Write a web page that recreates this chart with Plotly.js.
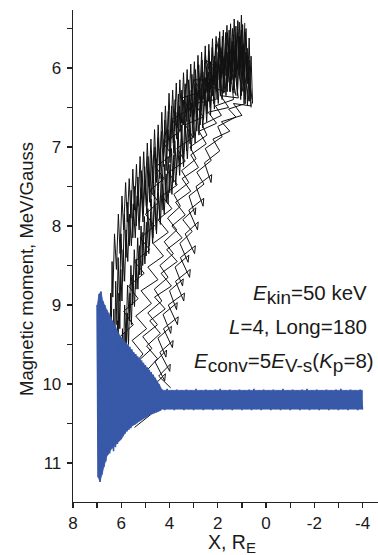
<!DOCTYPE html>
<html>
<head>
<meta charset="utf-8">
<script src="https://cdn.plot.ly/plotly-3.0.1.min.js"></script>
<style>html,body{margin:0;padding:0;background:#fff;}#chart{width:378px;height:555px;}</style>
</head>
<body>
<div id="chart"></div>
<script>
// ---- Data ----
// Black trajectories: spiky ones along the upper-left side
const s1X = [6.55,6.50,6.47,6.44,6.41,6.38,6.35,6.28,6.20,6.12,6.05,5.97,5.90,5.82,5.75,5.67,5.60,5.52,5.45,5.37,5.30,5.22,5.15,5.07,5.00,4.92,4.85,4.77,4.70,4.62,4.55,4.47,4.40,4.32,4.25,4.17,4.10,4.02,3.95,3.87,3.80,3.72,3.65,3.57,3.50,3.42,3.35,3.27,3.20,3.12,3.05,2.97,2.90,2.82,2.75,2.67,2.60,2.52,2.45,2.37,2.30,2.22,2.15,2.07,2.00,1.92,1.85,1.77,1.70,1.62,1.55,1.47,1.40,1.32,1.25,1.17,1.10,1.02,0.95,0.88];
const s1Y = [9.95,9.30,9.75,8.85,9.30,8.45,8.90,8.10,8.55,7.85,8.35,7.62,8.05,7.45,7.95,7.40,7.90,7.28,7.80,7.22,7.75,7.12,7.65,7.06,7.60,6.95,7.50,6.90,7.45,6.78,7.35,6.72,7.25,6.56,7.10,6.48,7.00,6.32,6.90,6.28,6.80,6.19,6.75,6.15,6.70,6.06,6.62,6.02,6.55,5.95,6.50,5.92,6.45,5.84,6.40,5.80,6.35,5.72,6.30,5.70,6.25,5.63,6.20,5.60,6.15,5.54,6.12,5.52,6.10,5.46,6.08,5.44,6.05,5.38,6.05,5.40,6.02,5.33,6.10,5.43];
const s2X = [6.25,6.22,6.19,6.16,6.13,6.10,6.06,6.02,5.97,5.92,5.86,5.80,5.73,5.66,5.58,5.50,5.42,5.34,5.26,5.18,5.10,5.02,4.94,4.86,4.78,4.70,4.62,4.54,4.46,4.38,4.30,4.22,4.14,4.06,3.98,3.90,3.82,3.74,3.66,3.58,3.50,3.42,3.34,3.26,3.18,3.10,3.02,2.94,2.86,2.78,2.70,2.62,2.54,2.46,2.38,2.30,2.22,2.14,2.06,1.98,1.90,1.82,1.74,1.66,1.58,1.50,1.42,1.34,1.26,1.18,1.10,1.02,0.94,0.86,0.78];
const s2Y = [10.02,9.45,9.90,9.20,9.60,8.85,9.30,8.55,8.95,8.30,8.70,8.05,8.45,7.85,8.25,7.72,8.15,7.62,8.05,7.52,7.95,7.42,7.85,7.33,7.75,7.25,7.65,7.15,7.55,7.02,7.45,6.90,7.30,6.78,7.20,6.66,7.08,6.56,6.98,6.48,6.90,6.42,6.82,6.35,6.75,6.28,6.70,6.20,6.62,6.12,6.55,6.05,6.48,5.98,6.42,5.92,6.35,5.85,6.30,5.80,6.25,5.74,6.22,5.68,6.18,5.62,6.15,5.58,6.12,5.55,6.10,5.52,6.10,5.55,6.15];
const s3X = [5.95,5.92,5.88,5.84,5.80,5.75,5.70,5.64,5.58,5.52,5.45,5.38,5.31,5.24,5.17,5.10,5.02,4.94,4.86,4.78,4.70,4.62,4.54,4.46,4.38,4.30,4.22,4.14,4.06,3.98,3.90,3.82,3.74,3.66,3.58,3.50,3.42,3.34,3.26,3.18,3.10,3.02,2.94,2.86,2.78,2.70,2.62,2.54,2.46,2.38,2.30,2.22,2.14,2.06,1.98,1.90,1.82,1.74,1.66,1.58,1.50,1.42,1.34,1.26,1.18,1.10,1.02,0.94,0.86,0.78,0.70,0.62,0.56];
const s3Y = [10.05,9.55,9.95,9.35,9.75,9.10,9.50,8.85,9.25,8.62,9.02,8.42,8.80,8.25,8.62,8.08,8.48,7.95,8.35,7.82,8.22,7.70,8.10,7.58,7.98,7.46,7.85,7.34,7.72,7.22,7.60,7.10,7.48,6.98,7.36,6.86,7.25,6.76,7.15,6.66,7.05,6.56,6.95,6.46,6.85,6.36,6.76,6.27,6.68,6.18,6.60,6.10,6.52,6.02,6.45,5.95,6.40,5.88,6.35,5.80,6.30,5.72,6.28,5.65,6.30,5.60,6.35,5.70,6.40,5.75,6.42,5.85,6.45];
const s4X = [6.40,6.37,6.34,6.31,6.27,6.23,6.18,6.13,6.07,6.01,5.94,5.87,5.80,5.73,5.66,5.59,5.52,5.45,5.38,5.31,5.24,5.17,5.10,5.03,4.96,4.89,4.82,4.75,4.68,4.61,4.54,4.47,4.40,4.33,4.26,4.19,4.12,4.05,3.98,3.91,3.84,3.77,3.70,3.63,3.56,3.49,3.42,3.35,3.28,3.21,3.14,3.07,3.00,2.93,2.86,2.79,2.72,2.65,2.58,2.51,2.44,2.37,2.30,2.23,2.16,2.09,2.02,1.95,1.88,1.81,1.74,1.67,1.60,1.53,1.46,1.39,1.32,1.25,1.18,1.11,1.04,0.97,0.90,0.83,0.76,0.70,0.64];
const s4Y = [10.05,9.40,9.90,9.05,9.60,8.70,9.25,8.40,8.95,8.10,8.70,7.85,8.40,7.70,8.25,7.55,8.15,7.50,8.00,7.38,7.95,7.30,7.85,7.25,7.75,7.12,7.70,7.05,7.60,7.00,7.45,6.88,7.40,6.80,7.25,6.66,7.15,6.55,7.05,6.48,6.95,6.40,6.90,6.33,6.80,6.28,6.72,6.20,6.68,6.15,6.62,6.08,6.58,6.02,6.50,5.96,6.45,5.90,6.40,5.82,6.32,5.78,6.28,5.74,6.22,5.70,6.20,5.62,6.15,5.60,6.12,5.55,6.10,5.52,6.08,5.50,6.05,5.47,6.02,5.42,6.00,5.45,6.05,5.50,6.20,5.62,6.30];
const s5X = [6.05,6.02,5.99,5.95,5.91,5.86,5.80,5.74,5.67,5.60,5.53,5.46,5.39,5.32,5.25,5.18,5.11,5.04,4.97,4.90,4.83,4.76,4.69,4.62,4.55,4.48,4.41,4.34,4.27,4.20,4.13,4.06,3.99,3.92,3.85,3.78,3.71,3.64,3.57,3.50,3.43,3.36,3.29,3.22,3.15,3.08,3.01,2.94,2.87,2.80,2.73,2.66,2.59,2.52,2.45,2.38,2.31,2.24,2.17,2.10,2.03,1.96,1.89,1.82,1.75,1.68,1.61,1.54,1.47,1.40,1.33,1.26,1.19,1.12,1.05,0.98,0.91,0.84,0.77,0.70,0.62];
const s5Y = [10.05,9.60,9.98,9.30,9.72,9.00,9.45,8.75,9.20,8.50,9.00,8.30,8.80,8.15,8.62,8.00,8.50,7.88,8.38,7.78,8.25,7.66,8.15,7.55,8.05,7.45,7.92,7.35,7.80,7.22,7.70,7.12,7.58,7.02,7.45,6.92,7.35,6.82,7.25,6.72,7.15,6.62,7.05,6.52,6.96,6.44,6.88,6.36,6.80,6.28,6.72,6.20,6.65,6.12,6.58,6.05,6.50,5.98,6.45,5.92,6.40,5.86,6.35,5.80,6.32,5.75,6.30,5.70,6.30,5.66,6.32,5.62,6.35,5.65,6.40,5.72,6.45,5.80,6.48,5.90,6.50];
// Black trajectories: criss-cross ones along the lower-right side
const c1X = [5.75,6.10,5.65,6.05,5.50,5.90,5.30,5.70,5.05,5.45,4.82,5.22,4.62,5.00,4.45,4.82,4.22,4.58,3.90,4.25,3.55,3.90,3.15,3.50,2.65,3.00,2.20,2.50,1.80,2.05];
const c1Y = [9.95,9.75,9.58,9.40,9.25,9.08,8.92,8.76,8.60,8.45,8.30,8.15,8.00,7.85,7.70,7.55,7.40,7.25,7.10,6.95,6.80,6.65,6.52,6.38,6.30,6.15,6.15,5.90,6.05,5.65];
const c2X = [5.20,5.60,5.10,5.55,4.95,5.40,4.75,5.18,4.48,4.90,4.25,4.68,4.05,4.48,3.90,4.32,3.68,4.05,3.35,3.70,3.02,3.35,2.60,2.95,2.10,2.45,1.70,1.95,1.45,1.60];
const c2Y = [9.98,9.80,9.62,9.45,9.30,9.14,8.98,8.82,8.68,8.52,8.38,8.22,8.08,7.92,7.78,7.62,7.48,7.32,7.18,7.02,6.88,6.72,6.62,6.45,6.40,6.22,6.30,5.70,6.20,5.55];
const c3X = [4.55,5.00,4.50,4.95,4.38,4.82,4.18,4.62,3.92,4.35,3.68,4.12,3.48,3.90,3.35,3.75,3.12,3.48,2.80,3.12,2.48,2.78,2.05,2.40,1.55,1.88,1.15,1.40,0.95,1.05];
const c3Y = [10.02,9.85,9.68,9.52,9.36,9.20,9.05,8.90,8.76,8.60,8.45,8.30,8.15,8.00,7.86,7.70,7.56,7.40,7.26,7.10,6.96,6.80,6.70,6.56,6.50,6.35,6.38,5.75,6.30,5.60];
const c4X = [3.95,4.45,3.97,3.99,4.40,3.85,3.88,4.25,3.64,3.67,4.05,3.38,3.41,3.75,3.14,3.17,3.55,2.93,2.96,3.35,2.81,2.84,3.20,2.58,2.61,2.90,2.25,2.28,2.55,1.92,2.20,1.50,1.85,1.00,1.35,0.62,0.80,0.58];
const c4Y = [10.05,9.90,9.75,9.84,9.60,9.45,9.54,9.30,9.15,9.25,9.00,8.85,8.95,8.70,8.55,8.65,8.40,8.25,8.35,8.10,7.95,8.05,7.80,7.65,7.75,7.50,7.35,7.45,7.20,7.05,6.90,6.80,6.68,6.60,6.45,6.48,5.85,6.40];
const c5X = [4.65,4.17,4.20,4.60,4.12,4.15,4.48,3.92,3.95,4.27,3.68,3.71,4.00,3.43,3.46,3.77,3.20,3.23,3.57,3.06,3.45,2.91,2.94,3.19,2.57,2.87,2.27,2.52,1.82,2.00,1.25,1.55,0.85,0.95,0.70];
const c5Y = [10.02,9.87,9.96,9.72,9.57,9.66,9.42,9.27,9.36,9.12,8.97,9.06,8.82,8.67,8.76,8.52,8.37,8.46,8.22,8.07,7.92,7.77,7.86,7.62,7.47,7.32,7.17,7.02,6.87,6.74,6.62,6.52,6.45,6.00,6.42];
const c6X = [5.30,4.82,5.26,4.73,5.11,4.50,4.90,4.32,4.63,4.06,4.40,3.84,4.22,3.70,4.08,3.55,3.82,3.20,3.50,2.90,3.15,2.45,2.65,1.85,2.10,1.35,1.50,1.25];
const c6Y = [10.00,9.85,9.70,9.55,9.40,9.25,9.10,8.95,8.80,8.65,8.50,8.35,8.20,8.05,7.90,7.75,7.60,7.45,7.30,7.15,7.00,6.85,6.72,6.60,6.48,6.40,5.90,6.35];
const extraX = [5.45,4.75];
const extraY = [10.55,10.38];

// Blue trace (oscillation) and its filled envelope
const blueX = [7.00,6.96,6.92,6.88,6.84,6.80,6.76,6.72,6.68,6.64,6.60,6.56,6.52,6.48,6.44,6.40,6.36,6.32,6.28,6.24,6.20,6.16,6.12,6.08,6.04,6.00,5.96,5.92,5.88,5.84,5.80,5.76,5.72,5.68,5.64,5.60,5.56,5.52,5.48,5.44,5.40,5.36,5.32,5.28,5.24,5.20,5.16,5.12,5.08,5.04,5.00,4.96,4.92,4.88,4.84,4.80,4.76,4.72,4.68,4.64,4.60,4.56,4.52,4.48,4.44,4.40,
 4.30,4.20,4.10,4.00,3.90,3.80,3.70,3.60,3.50,3.40,3.30,3.20,3.10,3.00,2.90,2.80,2.70,2.60,2.50,2.40,2.30,2.20,2.10,2.00,1.90,1.80,1.70,1.60,1.50,1.40,1.30,1.20,1.10,1.00,0.90,0.80,0.70,0.60,0.50,0.40,0.30,0.20,0.10,0.00,
 -0.10,-0.20,-0.30,-0.40,-0.50,-0.60,-0.70,-0.80,-0.90,-1.00,-1.10,-1.20,-1.30,-1.40,-1.50,-1.60,-1.70,-1.80,-1.90,-2.00,-2.10,-2.20,-2.30,-2.40,-2.50,-2.60,-2.70,-2.80,-2.90,-3.00,-3.10,-3.20,-3.30,-3.40,-3.50,-3.60,-3.70,-3.80,-3.90,-4.00];
const blueY = [9.00,11.18,8.86,11.24,8.83,11.15,8.95,11.05,9.00,10.98,9.06,10.90,9.10,10.88,9.15,10.82,9.20,10.85,9.25,10.80,9.32,10.76,9.36,10.72,9.40,10.70,9.42,10.66,9.45,10.63,9.48,10.60,9.50,10.58,9.53,10.56,9.56,10.53,9.60,10.52,9.62,10.50,9.65,10.48,9.68,10.46,9.70,10.44,9.73,10.43,9.76,10.42,9.79,10.40,9.82,10.39,9.85,10.38,9.88,10.37,9.92,10.36,9.96,10.35,10.00,10.34,
 10.07,10.33,10.06,10.32,10.08,10.33,10.07,10.31,10.08,10.33,10.07,10.32,10.08,10.33,10.06,10.32,10.08,10.33,10.07,10.31,10.08,10.33,10.07,10.32,10.06,10.33,10.08,10.32,10.07,10.33,10.08,10.31,10.07,10.33,10.08,10.32,10.07,10.33,10.06,10.32,10.08,10.33,10.07,10.31,
 10.08,10.33,10.07,10.32,10.08,10.33,10.06,10.32,10.08,10.33,10.07,10.31,10.08,10.33,10.07,10.32,10.06,10.33,10.08,10.32,10.07,10.33,10.08,10.31,10.07,10.33,10.08,10.32,10.07,10.33,10.06,10.32,10.08,10.33,10.07,10.31,10.08,10.33,10.07,10.32];
const blueEnvX = [7.00,6.92,6.84,6.76,6.60,6.40,6.20,6.00,5.80,5.50,5.20,4.80,4.60,4.40,4.30,-4.00,
                  -4.00,4.30,4.40,4.80,5.20,5.50,5.80,6.00,6.20,6.40,6.60,6.72,6.80,6.88,6.96,7.00];
const blueEnvY = [9.00,8.86,8.83,8.95,9.06,9.18,9.32,9.42,9.48,9.60,9.70,9.84,9.92,10.02,10.08,10.08,
                  10.32,10.32,10.34,10.39,10.46,10.52,10.60,10.70,10.76,10.82,10.92,11.05,11.15,11.24,11.18,9.00];

// Ticks
const xTickVals = [8,6,4,2,0,-2,-4];
const xTickText = ["8","6","4","2","0","-2","-4"];
const xMinorVals = [7,5,3,1,-1,-3];
const yTickVals = [6,7,8,9,10,11];
const yTickText = ["6","7","8","9","10","11"];
const yMinorVals = [5.5,6.5,7.5,8.5,9.5,10.5,11.5];

// Texts
const SUB = (t) => "<sub><span style=\"font-size:19px\">" + t + "</span></sub>";
const xTitle = "X, R<sub><span style=\"font-size:15px\">E</span></sub>";
const yTitle = "Magnetic moment, MeV/Gauss";
const labelLines = [
  "<i>E</i>" + SUB("kin") + "=50 keV",
  "<i>L</i>=4, Long=180",
  "<i>E</i>" + SUB("conv") + "=5<i>E</i>" + SUB("V-s") + "(<i>K</i>" + SUB("p") + "=8)"
];

// ---- Build ----
const FONT = "Liberation Sans, Arial, Helvetica, sans-serif";
const INK = "#1a1a1a";
const BLUE = "#3858a8";
const blackLine = {color: "#111111", width: 1};
const blackSets = [[s1X,s1Y],[s4X,s4Y],[s2X,s2Y],[s5X,s5Y],[s3X,s3Y],[c1X,c1Y],[c6X,c6Y],[c2X,c2Y],[c3X,c3Y],[c5X,c5Y],[c4X,c4Y],[extraX,extraY]];
const traces = blackSets.map(([x,y]) => ({x, y, type: "scatter", mode: "lines", line: blackLine, hoverinfo: "skip"}));
traces.push({x: blueEnvX, y: blueEnvY, type: "scatter", mode: "lines", fill: "toself", fillcolor: BLUE, line: {color: BLUE, width: 0.5}, hoverinfo: "skip"});
traces.push({x: blueX, y: blueY, type: "scatter", mode: "lines", line: {color: BLUE, width: 1.6}, hoverinfo: "skip"});

const tickStyle = {ticks: "outside", ticklen: 5, tickwidth: 1.3, tickcolor: "#222"};
const axisCommon = Object.assign({
  showgrid: false, zeroline: false, showline: true, linecolor: "#222", linewidth: 1.3,
  tickfont: {family: FONT, size: 17, color: INK}, tickmode: "array"
}, tickStyle);

const ann = (text, x, y, size, extra) => Object.assign({text, xref: "paper", yref: "paper", x, y, showarrow: false, borderpad: 0, font: {family: FONT, size, color: INK}}, extra);

const layout = {
  width: 378, height: 555,
  margin: {l: 73, r: 0, t: 10, b: 53, pad: 0},
  paper_bgcolor: "#fff", plot_bgcolor: "#fff",
  showlegend: false,
  xaxis: Object.assign({}, axisCommon, {
    range: [8, -4.64], tickvals: xTickVals, ticktext: xTickText,
    minor: Object.assign({tickvals: xMinorVals}, tickStyle)
  }),
  yaxis: Object.assign({}, axisCommon, {
    range: [11.494, 5.266], tickvals: yTickVals, ticktext: yTickText, ticklabelstandoff: 2,
    minor: Object.assign({tickvals: yMinorVals}, tickStyle)
  }),
  annotations: [
    ann(xTitle, 0.521, -0.056, 19.5, {xanchor: "center", yanchor: "top"}),
    ann(yTitle, -0.152, 0.473, 18.5, {xanchor: "center", yanchor: "middle", textangle: -90}),
    ann(labelLines[0], 0.967, 0.421, 20.5, {xanchor: "right", yanchor: "middle"}),
    ann(labelLines[1], 0.967, 0.356, 20.5, {xanchor: "right", yanchor: "middle"}),
    ann(labelLines[2], 0.99, 0.283, 20.5, {xanchor: "right", yanchor: "middle"})
  ]
};

Plotly.newPlot("chart", traces, layout, {staticPlot: true, displayModeBar: false});
</script>
</body>
</html>
